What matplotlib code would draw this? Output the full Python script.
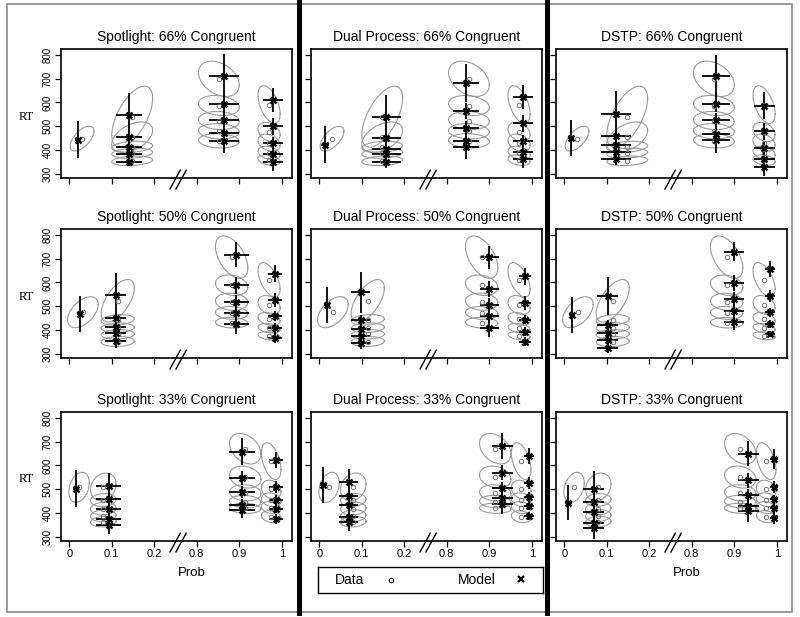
import numpy as np
import matplotlib
matplotlib.use('Agg')
import matplotlib.pyplot as plt
from matplotlib.lines import Line2D
from matplotlib.patches import Rectangle

plt.rcParams['font.family'] = ['Liberation Sans', 'DejaVu Sans']

W, H = 800, 617

titles = ['Spotlight: 66% Congruent', 'Dual Process: 66% Congruent', 'DSTP: 66% Congruent',
          'Spotlight: 50% Congruent', 'Dual Process: 50% Congruent', 'DSTP: 50% Congruent',
          'Spotlight: 33% Congruent', 'Dual Process: 33% Congruent', 'DSTP: 33% Congruent']

x_ticks = [0, 1, 2, 3, 4, 5]
x_tick_labels = ['0', '0.1', '0.2', '0.8', '0.9', '1']
rt_ticks = [300, 400, 500, 600, 700, 800]

# model predictions, one entry per panel (row by row)
# groups in x order: error (few), error, correct, correct (1 - p)
model_p = [
    [0.020, 0.141, 0.864, 0.980],
    [0.014, 0.158, 0.845, 0.979],
    [0.016, 0.121, 0.857, 0.971],
    [0.025, 0.109, 0.893, 0.984],
    [0.018, 0.097, 0.900, 0.983],
    [0.019, 0.102, 0.900, 0.984],
    [0.016, 0.093, 0.907, 0.986],
    [0.009, 0.069, 0.931, 0.993],
    [0.009, 0.069, 0.933, 0.994],
]
model_rt = [
    [[444], [352, 385, 414, 454, 546], [437, 472, 528, 595, 712], [349, 384, 430, 500, 611]],
    [[422], [350, 385, 404, 450, 540], [411, 440, 494, 564, 682], [362, 394, 440, 512, 621]],
    [[451], [363, 392, 420, 458, 551], [441, 469, 525, 595, 712], [328, 364, 409, 479, 586]],
    [[468], [353, 387, 411, 450, 547], [425, 473, 519, 588, 716], [366, 408, 459, 526, 637]],
    [[505], [346, 377, 405, 442, 558], [408, 458, 505, 572, 705], [352, 394, 444, 514, 625]],
    [[463], [324, 359, 387, 422, 544], [433, 482, 530, 597, 729], [384, 426, 475, 542, 656]],
    [[503], [349, 374, 419, 461, 515], [415, 436, 489, 547, 658], [376, 419, 454, 510, 624]],
    [[518], [363, 384, 433, 472, 532], [440, 462, 507, 570, 681], [388, 430, 468, 528, 639]],
    [[444], [339, 360, 406, 447, 503], [409, 430, 476, 537, 649], [381, 420, 458, 511, 625]],
]
# half widths of the probability bars
p_bar = [
    [0.007, 0.031, 0.035, 0.024],
    [0.009, 0.034, 0.031, 0.023],
    [0.008, 0.035, 0.033, 0.024],
    [0.008, 0.024, 0.029, 0.017],
    [0.008, 0.022, 0.023, 0.014],
    [0.007, 0.024, 0.024, 0.011],
    [0.008, 0.029, 0.031, 0.016],
    [0.008, 0.023, 0.024, 0.012],
    [0.008, 0.025, 0.024, 0.009],
]
# half lengths of the RT bars
rt_bar = [
    [[77], [20, 22, 25, 30, 95], [50, 30, 30, 35, 90], [38, 25, 25, 35, 50]],
    [[77], [25, 22, 22, 30, 91], [50, 30, 30, 35, 80], [37, 25, 25, 35, 50]],
    [[77], [24, 22, 22, 30, 95], [53, 30, 30, 35, 88], [35, 25, 25, 35, 56]],
    [[75], [28, 20, 20, 25, 94], [42, 30, 30, 35, 52], [20, 20, 22, 30, 37]],
    [[77], [25, 18, 18, 22, 87], [38, 28, 28, 32, 49], [17, 18, 20, 28, 34]],
    [[76], [20, 18, 18, 22, 80], [31, 28, 28, 32, 39], [14, 16, 18, 26, 35]],
    [[77], [38, 25, 25, 25, 53], [34, 25, 25, 30, 56], [20, 18, 20, 25, 34]],
    [[75], [38, 25, 25, 25, 52], [42, 25, 25, 30, 56], [18, 18, 20, 25, 35]],
    [[75], [49, 25, 25, 25, 74], [45, 25, 25, 30, 53], [25, 18, 20, 25, 42]],
]

# observed data, one entry per row (same data for the three models)
data_p = [
    [0.030, 0.148, 0.852, 0.970],
    [0.032, 0.114, 0.882, 0.970],
    [0.023, 0.080, 0.914, 0.975],
]
data_rt = [
    [[448], [355, 387, 414, 454, 540], [439, 479, 524, 587, 699], [358, 388, 431, 476, 591]],
    [[475], [352, 382, 410, 443, 523], [431, 472, 519, 588, 706], [376, 408, 447, 505, 611]],
    [[508], [364, 389, 419, 455, 510], [420, 448, 485, 551, 670], [385, 423, 456, 499, 618]],
]
# confidence ellipses: half width (prob), half height (ms), correlation
ell_w = [
    [0.028, 0.048, 0.048, 0.026],
    [0.036, 0.039, 0.038, 0.026],
    [0.024, 0.030, 0.037, 0.023],
]
ell_h = [
    [[52], [20, 21, 23, 64, 128], [30, 32, 38, 42, 74], [22, 28, 36, 40, 79]],
    [[65], [21, 20, 20, 22, 89], [22, 27, 36, 43, 89], [17, 20, 27, 40, 72]],
    [[63], [22, 25, 27, 27, 58], [21, 26, 34, 46, 64], [25, 25, 29, 39, 77]],
]
ell_r = [
    [[0.6], [0.2, 0.2, 0.2, 0.45, 0.6], [-0.1, -0.1, -0.1, -0.2, -0.35], [-0.3, -0.3, -0.3, -0.3, -0.5]],
    [[0.5], [0.1, 0.1, 0.1, 0.2, 0.6], [-0.1, -0.1, -0.1, -0.2, -0.5], [-0.3, -0.3, -0.3, -0.3, -0.55]],
    [[0.3], [0.1, 0.1, 0.1, 0.1, 0.2], [-0.1, -0.1, -0.1, -0.2, -0.35], [-0.2, -0.2, -0.2, -0.2, -0.45]],
]


def to_axis(p):
    # broken axis: 0..0.2 and 0.8..1 side by side
    p = np.asarray(p, dtype=float)
    return np.where(p < 0.5, p * 10, 3 + (p - 0.8) * 10)


def draw_panel(ax, k):
    row = k // 3
    theta = np.linspace(0, 2 * np.pi, 120)
    for g in range(4):
        mrt = np.array(model_rt[k][g], dtype=float)
        drt = np.array(data_rt[row][g], dtype=float)
        mp = model_p[k][g]
        dp = data_p[row][g]

        for q in range(len(drt)):
            r = ell_r[row][g][q]
            ex = dp + ell_w[row][g] * np.cos(theta)
            ey = drt[q] + ell_h[row][g][q] * (r * np.cos(theta) + np.sqrt(1 - r * r) * np.sin(theta))
            ax.plot(to_axis(ex), ey, color='#9a9a9a', lw=0.8, zorder=1)

        mt = float(to_axis(mp))
        err = np.array(rt_bar[k][g], dtype=float)
        ax.vlines(np.full(len(mrt), mt), mrt - err, mrt + err, color='black', lw=1.3, zorder=2)
        ax.hlines(mrt, float(to_axis(mp - p_bar[k][g])), float(to_axis(mp + p_bar[k][g])),
                  color='black', lw=1.3, zorder=2)
        ax.plot(np.full(len(drt), float(to_axis(dp))), drt, 'o', mfc='none', mec='#707070',
                ms=3.2, mew=0.7, zorder=3)
        ax.plot(np.full(len(mrt), mt), mrt, 'x', color='black', ms=4.5, mew=1.8, zorder=4)

    ax.set_xlim(-0.195, 5.24)
    ax.set_ylim(283, 824)
    ax.set_xticks(x_ticks)
    ax.set_yticks(rt_ticks)
    ax.tick_params(direction='out', length=4, width=0.9, pad=2)
    for s in ax.spines.values():
        s.set_linewidth(1.2)

    # axis break mark
    trans = ax.get_xaxis_transform()
    for x0 in [2.37, 2.51]:
        ax.plot([x0, x0 + 0.24], [-0.085, 0.06], color='black', lw=1.0,
                transform=trans, clip_on=False)


fig = plt.figure(figsize=(W / 100, H / 100), dpi=100)

col_left = [61, 311, 556]
row_top = [49, 229, 412]
ax_w, ax_h = 231, 129

for k in range(9):
    row, col = k // 3, k % 3
    ax = fig.add_axes([col_left[col] / W, 1 - (row_top[row] + ax_h) / H, ax_w / W, ax_h / H])
    draw_panel(ax, k)
    ax.set_title(titles[k], fontsize=10, pad=6)

    if col == 0:
        ax.set_yticklabels([str(v) for v in rt_ticks], rotation=90, va='center', fontsize=7)
        fig.text(26 / W, 1 - (row_top[row] + ax_h / 2 + 3) / H, 'RT', family='Liberation Serif',
                 fontsize=9, ha='center', va='center')
    else:
        ax.set_yticklabels([])

    if row == 2:
        ax.set_xticklabels(x_tick_labels, fontsize=8)
        if col != 1:
            ax.text(0.565, -0.25, 'Prob', transform=ax.transAxes, ha='center', va='center',
                    fontsize=9.5)
    else:
        ax.set_xticklabels([])

# legend under the middle column
lax = fig.add_axes([318 / W, 1 - 593 / H, 225 / W, 26 / H])
lax.set_xlim(0, 1)
lax.set_ylim(0, 1)
lax.set_xticks([])
lax.set_yticks([])
for s in lax.spines.values():
    s.set_linewidth(1.0)
lax.text(0.075, 0.5, 'Data', ha='left', va='center', fontsize=10)
lax.plot([0.325], [0.5], 'o', mfc='none', mec='black', ms=3.2, mew=0.8)
lax.text(0.62, 0.5, 'Model', ha='left', va='center', fontsize=10)
lax.plot([0.9], [0.52], 'x', color='black', ms=4, mew=1.6)

# outer frame and the thick separators between models
fig.add_artist(Rectangle((7 / W, 1 - 612 / H), 785 / W, 608 / H, transform=fig.transFigure,
                         fill=False, ec='#8a8a8a', lw=1.2))
for x in [298.5, 547]:
    fig.add_artist(Line2D([x / W, x / W], [1, 1 - 613 / H], color='black', lw=3.6,
                          transform=fig.transFigure))

fig.savefig('out.png', dpi=100)
